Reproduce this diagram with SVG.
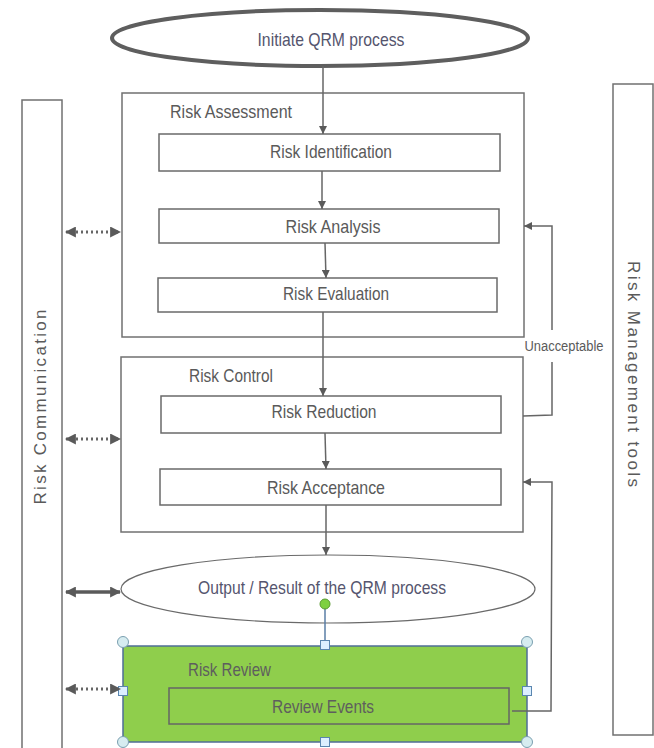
<svg xmlns="http://www.w3.org/2000/svg" width="654" height="748" viewBox="0 0 654 748">
  <defs>
    <style>
      .lbl { font-family: "Liberation Sans Narrow", "Liberation Sans", Arial, sans-serif; font-size: 19px; fill: #5a5a5a; }
      .lblb { font-family: "Liberation Sans Narrow", "Liberation Sans", Arial, sans-serif; font-size: 19px; fill: #55556e; }
      .side { font-family: "Liberation Sans", Arial, sans-serif; font-size: 17px; fill: #5a5a5a; }
      .box { fill: #ffffff; stroke: #707070; stroke-width: 1.5; }
      .step { fill: #ffffff; stroke: #6a6a6a; stroke-width: 1.5; }
      .flow { fill: none; stroke: #666666; stroke-width: 1.5; }
      .dots { fill: none; stroke: #666666; stroke-width: 3; stroke-dasharray: 2 3; }
      .handle-c { fill: #d6ecf0; stroke: #7a9fb0; stroke-width: 1; }
      .handle-s { fill: #dcefff; stroke: #5a86b0; stroke-width: 1; }
    </style>
    <marker id="arr" viewBox="0 0 10 10" refX="10" refY="5" markerWidth="8" markerHeight="8" markerUnits="userSpaceOnUse" orient="auto">
      <path d="M0,0 L10,5 L0,10 z" fill="#5a5a5a"/>
    </marker>
    <marker id="arrBig" viewBox="0 0 10 10" refX="9" refY="5" markerWidth="11" markerHeight="11" markerUnits="userSpaceOnUse" orient="auto-start-reverse">
      <path d="M0,0 L10,5 L0,10 z" fill="#5a5a5a"/>
    </marker>
  </defs>

  <!-- side bars -->
  <g id="risk-communication">
    <rect x="22" y="100" width="40" height="660" class="box"/>
    <text class="side" x="0" y="0" transform="translate(46,407) rotate(-90)" text-anchor="middle" textLength="195" lengthAdjust="spacing">Risk Communication</text>
  </g>
  <g id="risk-management-tools">
    <rect x="613" y="84" width="40" height="651" class="box"/>
    <text class="side" x="0" y="0" transform="translate(628,374) rotate(90)" text-anchor="middle" textLength="226" lengthAdjust="spacing">Risk Management  tools</text>
  </g>

  <!-- start -->
  <g id="initiate">
    <ellipse cx="320" cy="38" rx="208" ry="28" fill="#ffffff" stroke="#5e5e5e" stroke-width="4"/>
    <text class="lblb" x="331" y="46" text-anchor="middle" textLength="147" lengthAdjust="spacingAndGlyphs">Initiate QRM process</text>
  </g>

  <!-- risk assessment -->
  <g id="risk-assessment">
    <rect x="122" y="93" width="402" height="244" class="box"/>
    <text class="lbl" x="170" y="118" textLength="122" lengthAdjust="spacingAndGlyphs">Risk Assessment</text>
  </g>
  <g id="risk-identification">
    <rect x="159" y="134" width="341" height="37" class="step"/>
    <text class="lbl" x="331" y="158" text-anchor="middle" textLength="122" lengthAdjust="spacingAndGlyphs">Risk Identification</text>
  </g>
  <g id="risk-analysis">
    <rect x="159" y="209" width="340" height="34" class="step"/>
    <text class="lbl" x="333" y="233" text-anchor="middle" textLength="95" lengthAdjust="spacingAndGlyphs">Risk Analysis</text>
  </g>
  <g id="risk-evaluation">
    <rect x="158" y="278" width="339" height="34" class="step"/>
    <text class="lbl" x="336" y="300" text-anchor="middle" textLength="106" lengthAdjust="spacingAndGlyphs">Risk Evaluation</text>
  </g>

  <!-- risk control -->
  <g id="risk-control">
    <rect x="121" y="357" width="402" height="175" class="box"/>
    <text class="lbl" x="189" y="382" textLength="84" lengthAdjust="spacingAndGlyphs">Risk Control</text>
  </g>
  <g id="risk-reduction">
    <rect x="161" y="396" width="340" height="37" class="step"/>
    <text class="lbl" x="324" y="418" text-anchor="middle" textLength="105" lengthAdjust="spacingAndGlyphs">Risk Reduction</text>
  </g>
  <g id="risk-acceptance">
    <rect x="160" y="469" width="341" height="36" class="step"/>
    <text class="lbl" x="326" y="494" text-anchor="middle" textLength="118" lengthAdjust="spacingAndGlyphs">Risk Acceptance</text>
  </g>

  <!-- output -->
  <g id="output">
    <ellipse cx="328" cy="589" rx="207" ry="34" fill="#ffffff" stroke="#6a6a6a" stroke-width="1.2"/>
    <text class="lblb" x="322" y="594" text-anchor="middle" textLength="248" lengthAdjust="spacingAndGlyphs">Output / Result of the QRM process</text>
  </g>

  <!-- risk review (selected shape with handles) -->
  <g id="risk-review">
    <rect x="123" y="646" width="404" height="96" fill="#8fce4c" stroke="#4f6e96" stroke-width="1.5"/>
    <text class="lbl" x="188" y="676" textLength="83" lengthAdjust="spacingAndGlyphs" style="fill:#5e5e5e">Risk Review</text>
    <line x1="325" y1="606" x2="325" y2="645" stroke="#5a7ea6" stroke-width="1.5"/>
    <circle cx="325" cy="604" r="5" fill="#7ed040" stroke="#5a9a30" stroke-width="1"/>
    <circle cx="123" cy="642" r="5.5" class="handle-c"/>
    <circle cx="527" cy="642" r="5.5" class="handle-c"/>
    <circle cx="123" cy="742" r="5.5" class="handle-c"/>
    <circle cx="527" cy="742" r="5.5" class="handle-c"/>
    <rect x="320.5" y="640.5" width="9" height="9" class="handle-s"/>
    <rect x="118.5" y="686.5" width="9" height="9" class="handle-s"/>
    <rect x="522.5" y="686.5" width="9" height="9" class="handle-s"/>
    <rect x="320.5" y="737.5" width="9" height="9" class="handle-s"/>
  </g>
  <g id="review-events">
    <rect x="169" y="688" width="340" height="36" fill="none" stroke="#666666" stroke-width="1.5"/>
    <text class="lbl" x="323" y="713" text-anchor="middle" textLength="102" lengthAdjust="spacingAndGlyphs" style="fill:#5e5e5e">Review  Events</text>
  </g>

  <!-- connectors -->
  <g id="connectors">
    <line x1="323" y1="66" x2="323" y2="134" class="flow" marker-end="url(#arr)"/>
    <line x1="322" y1="171" x2="322" y2="209" class="flow" marker-end="url(#arr)"/>
    <line x1="325" y1="243" x2="326" y2="278" class="flow" marker-end="url(#arr)"/>
    <line x1="323" y1="312" x2="323" y2="396" class="flow" marker-end="url(#arr)"/>
    <line x1="325" y1="433" x2="326" y2="469" class="flow" marker-end="url(#arr)"/>
    <line x1="326" y1="505" x2="326" y2="555" class="flow" marker-end="url(#arr)"/>

    <!-- unacceptable loop back to assessment -->
    <polyline points="523,416 552,415 552,362" class="flow"/>
    <polyline points="552,330 552,226 524,226" class="flow" marker-end="url(#arr)"/>
    <text x="564" y="351" text-anchor="middle" font-family="Liberation Sans Narrow, Liberation Sans, Arial, sans-serif" font-size="14" fill="#5a5a5a" textLength="79" lengthAdjust="spacingAndGlyphs">Unacceptable</text>

    <!-- review loop back to control -->
    <polyline points="512,711 551,711 552,482 523,482" class="flow" marker-end="url(#arr)"/>

    <!-- communication links -->
    <line x1="66" y1="232" x2="120" y2="232" class="dots" marker-start="url(#arrBig)" marker-end="url(#arrBig)"/>
    <line x1="66" y1="439" x2="120" y2="439" class="dots" marker-start="url(#arrBig)" marker-end="url(#arrBig)"/>
    <line x1="66" y1="592" x2="120" y2="592" fill="none" stroke="#5a5a5a" stroke-width="3.5" marker-start="url(#arrBig)" marker-end="url(#arrBig)"/>
    <line x1="66" y1="689" x2="120" y2="689" class="dots" marker-start="url(#arrBig)" marker-end="url(#arrBig)"/>
  </g>
</svg>
